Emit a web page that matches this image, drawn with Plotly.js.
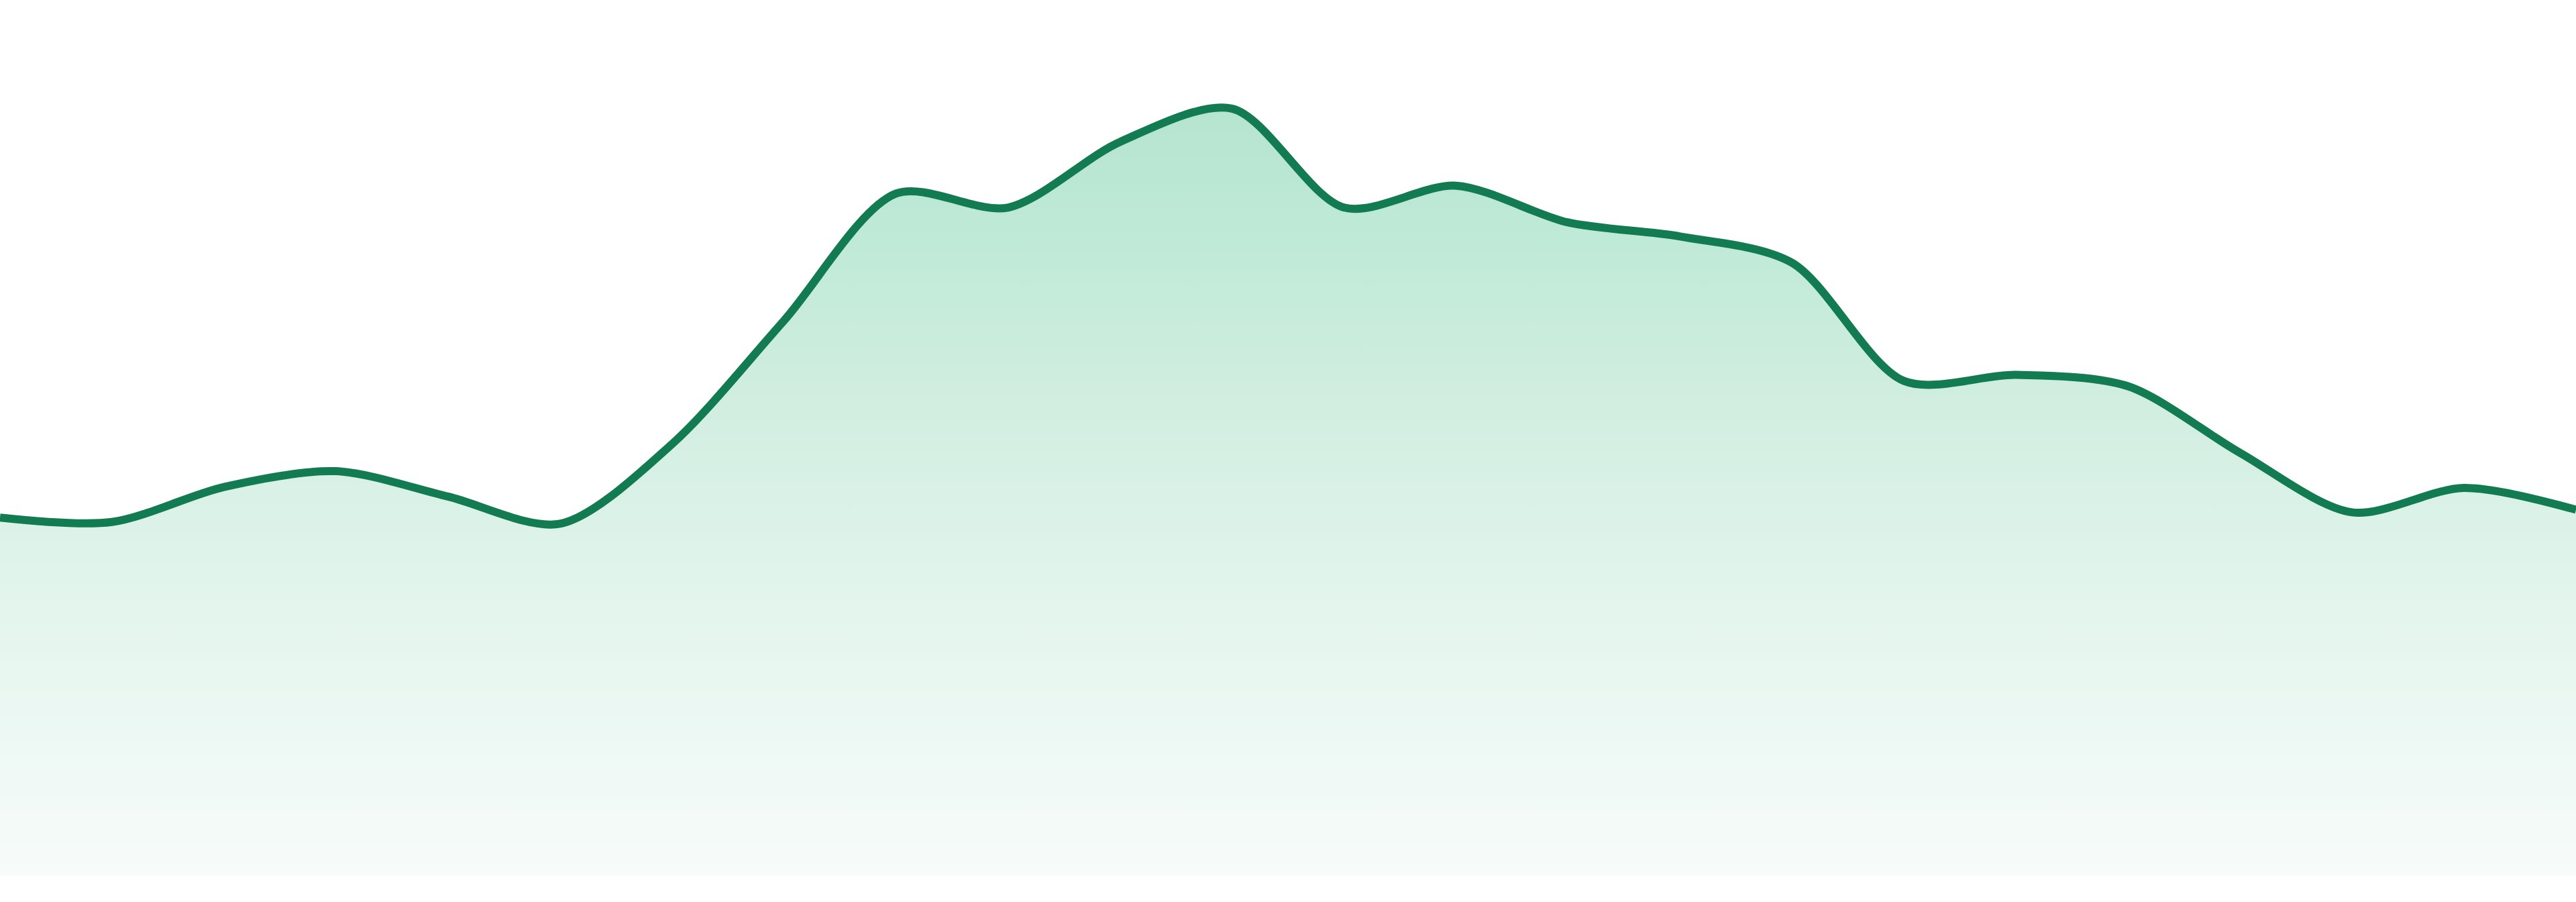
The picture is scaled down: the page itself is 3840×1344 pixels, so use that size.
<!DOCTYPE html>
<html>
<head>
<meta charset="utf-8">
<script src="https://cdn.plot.ly/plotly-3.0.1.min.js"></script>
<style>
html,body{margin:0;padding:0;background:#ffffff;overflow:hidden;}
#chart{width:3840px;height:1344px;}
</style>
</head>
<body>
<div id="chart"></div>
<script>
// Data
const xIndex = [0,1,2,3,4,5,6,7,8,9,10,11,12,13,14,15,16,17,18,19,20,21,22,23];
const values = [40.9,40.4,44.4,46.2,43.3,40.2,49.3,63.4,77.9,76.3,83.8,87.6,76.3,78.8,74.6,73.0,70.0,56.5,57.2,55.9,48.3,41.5,44.3,41.8];

const trace = {
  x: xIndex,
  y: values,
  type: 'scatter',
  mode: 'lines',
  line: {color: '#127b51', width: 12, shape: 'spline', smoothing: 0.85},
  fill: 'tozeroy',
  fillgradient: {
    type: 'vertical',
    start: 0,
    stop: 88,
    colorscale: [
      [0, '#f7fbfa'],
      [0.3, '#e6f6ef'],
      [0.6, '#d2eee1'],
      [0.85, '#bde9d6'],
      [1, '#b5e4cf']
    ]
  },
  hoverinfo: 'skip'
};

const layout = {
  width: 3840,
  height: 1344,
  autosize: false,
  margin: {l: 0, r: 0, t: 0, b: 39, pad: 0},
  paper_bgcolor: '#ffffff',
  plot_bgcolor: '#ffffff',
  showlegend: false,
  xaxis: {range: [0, 23], visible: false, fixedrange: true},
  yaxis: {range: [0, 100], visible: false, fixedrange: true}
};

Plotly.newPlot('chart', [trace], layout, {staticPlot: true, displayModeBar: false});
</script>
</body>
</html>
